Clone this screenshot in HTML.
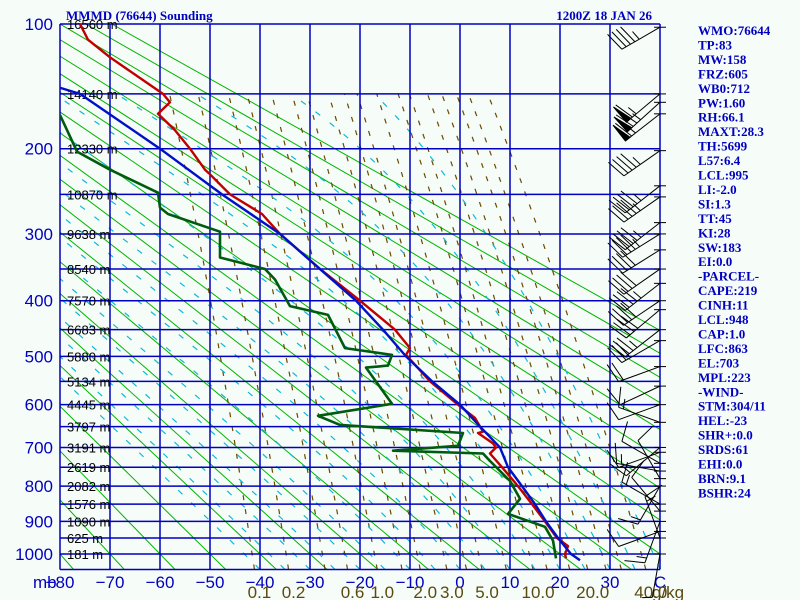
<!DOCTYPE html>
<html><head><meta charset="utf-8"><style>
html,body{margin:0;padding:0;background:#f6fcf8;}
svg{display:block;}
.rp{font-family:"Liberation Serif",serif;font-weight:bold;font-size:13px;fill:#0000c0;}
</style></head><body>
<svg id="chart" width="800" height="600" xmlns="http://www.w3.org/2000/svg">
<rect x="0" y="0" width="800" height="600" fill="#f6fcf8"/>
<defs><clipPath id="plotclip"><rect x="60" y="24" width="600" height="545"/></clipPath></defs>
<g id="gAdiab" clip-path="url(#plotclip)"></g>
<g id="gMix" clip-path="url(#plotclip)"></g>
<g id="gMoist" clip-path="url(#plotclip)"></g>
<g id="gGrid"></g>
<g id="gLabels"></g>
<g id="gSeries" clip-path="url(#plotclip)"></g>
<g id="gWind"></g>
<text x="66" y="20" class="rp" style="font-size:13px">MMMD (76644) Sounding</text>
<text x="652" y="20" class="rp" text-anchor="end">1200Z 18 JAN 26</text>
<g id="gPanel"></g>
</svg>
<script>
// ---- data ----
const tempP = [100,110,122,150,157,167,182,200,222,227,250,274,300,350,400,450,484,497,550,600,630,662,665,690,700,715,750,800,850,900,950,975,1000,1014];
const tempT = [-76,-74.4,-70,-59.4,-58,-60.4,-57,-54,-51,-50,-46,-39.6,-36,-28,-20,-13,-10,-10.8,-6,-0.4,3,4.6,3.6,6.6,7.2,6,8.4,11.6,14.4,17,19.4,21.6,21,21.2];
const dewP = [168,203,222,248,266,274,297,333,350,366,409,424,484,497,518,522,598,625,646,665,696,708,715,734,786,835,878,916,958,1014];
const dewT = [-80,-76.6,-70,-60.4,-60,-58.4,-48,-48,-39,-37,-34,-26.4,-23,-13.6,-14.4,-18.8,-13.6,-28.4,-24,0.6,-0.4,-13.4,4.6,6,10,12,9.6,17,18.6,19.2];
const parcelP = [145,150,200,250,300,400,450,500,550,600,650,700,750,800,850,900,950,1000,1020];
const parcelT = [-80,-76,-60,-47.6,-36,-20.8,-15.4,-10.8,-5.6,0,4,8,9.6,12.4,15,17.2,19.6,22.2,24];
const pLevels = [100,200,300,400,500,600,700,800,900,1000];
const heightP = [100,150,200,250,300,350,400,450,500,550,600,650,700,750,800,850,900,950,1000];
const heightLbl = ["16560 m","14140 m","12330 m","10870 m","9638 m","8540 m","7570 m","6683 m","5880 m","5134 m","4445 m","3797 m","3191 m","2619 m","2082 m","1576 m","1090 m","625 m","181 m"];
const tempTicks = [-80,-70,-60,-50,-40,-30,-20,-10,0,10,20,30];
const mixW = [0.1,0.2,0.4,0.6,1,1.5,2,3,4,5,7,10,12,16,20,25,30,40];
const mixLbl = [0.1,0.2,0.6,1.0,2.0,3.0,5.0,10.0,20.0,40.0];
const windP = [102,150,157,167,202,240,253,285,300,322,350,372,400,415,450,470,520,560,600,640,700,712,740,760,780,800,850,870,900,930,950,1000];
const windDir = [240,230,228,232,235,232,235,232,238,238,235,232,236,230,232,240,250,245,250,290,230,250,300,280,330,210,300,320,200,250,340,190];
const windSpd = [45,65,75,70,45,45,45,45,45,40,40,45,40,40,35,30,20,10,10,15,15,10,10,15,10,15,15,10,15,10,15,5];
const panelLines = ["WMO:76644","TP:83","MW:158","FRZ:605","WB0:712","PW:1.60","RH:66.1","MAXT:28.3","TH:5699","L57:6.4","LCL:995","LI:-2.0","SI:1.3","TT:45","KI:28","SW:183","EI:0.0","-PARCEL-","CAPE:219","CINH:11","LCL:948","CAP:1.0","LFC:863","EL:703","MPL:223","-WIND-","STM:304/11","HEL:-23","SHR+:0.0","SRDS:61","EHI:0.0","BRN:9.1","BSHR:24"];

// ---- axes ----
const K = 0.286, P0k = Math.pow(100,K), P1k = Math.pow(1000,K);
function yOf(p){ return 24 + 530*(Math.pow(p,K)-P0k)/(P1k-P0k); }
function xOf(t){ return 460 + 5*t; }
const NS='http://www.w3.org/2000/svg';
function mk(tag, attrs, parent){ const e=document.createElementNS(NS,tag); for(const k in attrs) e.setAttribute(k,attrs[k]); parent.appendChild(e); return e; }
function pathD(ps, ts){ return ps.map((p,i)=>(i?'L':'M')+xOf(ts[i]).toFixed(1)+','+yOf(p).toFixed(1)).join(''); }

// dry adiabats
const gA=document.getElementById('gAdiab');
for(let n=0;n<=20;n++){
  const th=193.15+10*n;
  const t1=th*Math.pow(1050/1000,K)-273.15, t2=th*Math.pow(100/1000,K)-273.15;
  const l=mk('line',{x1:xOf(t1),y1:yOf(1050),x2:xOf(t2),y2:yOf(100),stroke:'#00b400','stroke-width':1},gA);
  
  
}
// mixing ratio lines
function tdFromE(e){ const a=Math.log(e/6.112); return 243.5*a/(17.67-a); }
const gM=document.getElementById('gMix');
mixW.forEach(w=>{
  const ps=[],ts=[];
  for(let p=1050;p>=150;p-=10){ ps.push(p); ts.push(tdFromE(w*p/(622+w))); }
  const e=mk('path',{d:pathD(ps,ts),fill:'none',stroke:'#6a4a00','stroke-width':1.2,'stroke-dasharray':'5,9'},gM);
  
  
});
// moist adiabats
function es(t){ return 6.112*Math.exp(17.67*t/(t+243.5)); }
const gMo=document.getElementById('gMoist');
for(let t0=-40;t0<=40;t0+=5){
  let T=t0+273.15; const ps=[1050],ts=[t0];
  for(let p=1050;p>150;p-=5){
    const rs=0.622*es(T-273.15)/(p-es(T-273.15));
    const g=(287*T+2.5e6*rs)/(1004+2.5e6*2.5e6*rs*0.622/(287*T*T))/p;
    T-=g*5; ps.push(p-5); ts.push(T-273.15);
  }
  const e=mk('path',{d:pathD(ps,ts),fill:'none',stroke:'#10b8d8','stroke-width':1.2,'stroke-dasharray':'6,12'},gMo);
  
  
}
// grid
const gG=document.getElementById('gGrid');
heightP.forEach(p=>{ const l=mk('line',{x1:60,x2:660,y1:yOf(p),y2:yOf(p),stroke:'#0000c0','stroke-width':1.5},gG);
    });
const lb=mk('line',{x1:60,x2:660,y1:yOf(1050),y2:yOf(1050),stroke:'#0000c0','stroke-width':1.5},gG);
 
for(let t=-80;t<=40;t+=10){ const l=mk('line',{x1:xOf(t),x2:xOf(t),y1:24,y2:yOf(1050),stroke:'#0000c0','stroke-width':1.5},gG);
    }
// labels
const gL=document.getElementById('gLabels');
pLevels.forEach(p=>{ const t=mk('text',{x:53,y:yOf(p)+6,'text-anchor':'end','font-family':'Liberation Sans, sans-serif','font-size':17,fill:'#0000c0'},gL); t.textContent=p;
    });
heightP.forEach((p,i)=>{ const t=mk('text',{x:67,y:yOf(p)+5,'font-family':'Liberation Sans, sans-serif','font-size':13,fill:'#000'},gL); t.textContent=heightLbl[i];
    });
tempTicks.forEach(v=>{ const t=mk('text',{x:xOf(v),y:588,'text-anchor':'middle','font-family':'Liberation Sans, sans-serif','font-size':17,fill:'#0000c0'},gL); t.textContent=v<0?'\u2212'+(-v):v;
    });
{ const t=mk('text',{x:xOf(40),y:588,'text-anchor':'middle','font-family':'Liberation Sans, sans-serif','font-size':17,fill:'#0000c0'},gL); t.textContent='C';
   
  const m=mk('text',{x:33,y:588,'font-family':'Liberation Sans, sans-serif','font-size':17,fill:'#0000c0'},gL); m.textContent='mb';
    }
mixLbl.forEach(w=>{ const x=xOf(tdFromE(w*1050/(622+w)))+5; const t=mk('text',{x:x,y:598,'text-anchor':'middle','font-family':'Liberation Sans, sans-serif','font-size':17,fill:'#5a4a10'},gL); t.textContent=w.toFixed(1);
    });
{ const t=mk('text',{x:652,y:598,'font-family':'Liberation Sans, sans-serif','font-size':17,fill:'#5a4a10'},gL); t.textContent='g/kg';
    }
// series
const gS=document.getElementById('gSeries');
let s=mk('path',{d:pathD(dewP,dewT),fill:'none',stroke:'#005a10','stroke-width':2.6,'stroke-linejoin':'round'},gS);
 
s=mk('path',{d:pathD(tempP,tempT),fill:'none',stroke:'#c00000','stroke-width':2.4,'stroke-linejoin':'round'},gS);
 
s=mk('path',{d:pathD(parcelP,parcelT),fill:'none',stroke:'#0010c8','stroke-width':2.4,'stroke-linejoin':'round'},gS);
 
// winds
const gW=document.getElementById('gWind');
windP.forEach((p,i)=>{
  const y=yOf(p), x=660, d=windDir[i]*Math.PI/180, L=44;
  const ux=Math.sin(d), uy=-Math.cos(d);
  const g=mk('g',{stroke:'#000','stroke-width':1,fill:'#000'},gW);
   
  mk('line',{x1:x-6,x2:x+6,y1:y,y2:y},g);
  mk('line',{x1:x,y1:y,x2:x+ux*L,y2:y+uy*L},g);
  let spd=windSpd[i], pos=L; const px=-uy, py=ux;
  while(spd>=50){ const bx=x+ux*pos,by=y+uy*pos, cx=x+ux*(pos-6),cy=y+uy*(pos-6);
    mk('polygon',{points:`${bx},${by} ${cx},${cy} ${bx+px*20},${by+py*20}`},g); pos-=8; spd-=50; }
  while(spd>=10){ const bx=x+ux*pos,by=y+uy*pos; mk('line',{x1:bx,y1:by,x2:bx+px*20+ux*5,y2:by+py*20+uy*5},g); pos-=5; spd-=10; }
  if(spd>=5){ const bx=x+ux*pos,by=y+uy*pos; mk('line',{x1:bx,y1:by,x2:bx+px*10+ux*2,y2:by+py*10+uy*2},g); }
});
// panel
const gP=document.getElementById('gPanel');
panelLines.forEach((t,i)=>{ const e=mk('text',{x:698,y:35+i*14.45,'class':'rp'},gP); e.textContent=t;
    });
</script>
</body></html>
